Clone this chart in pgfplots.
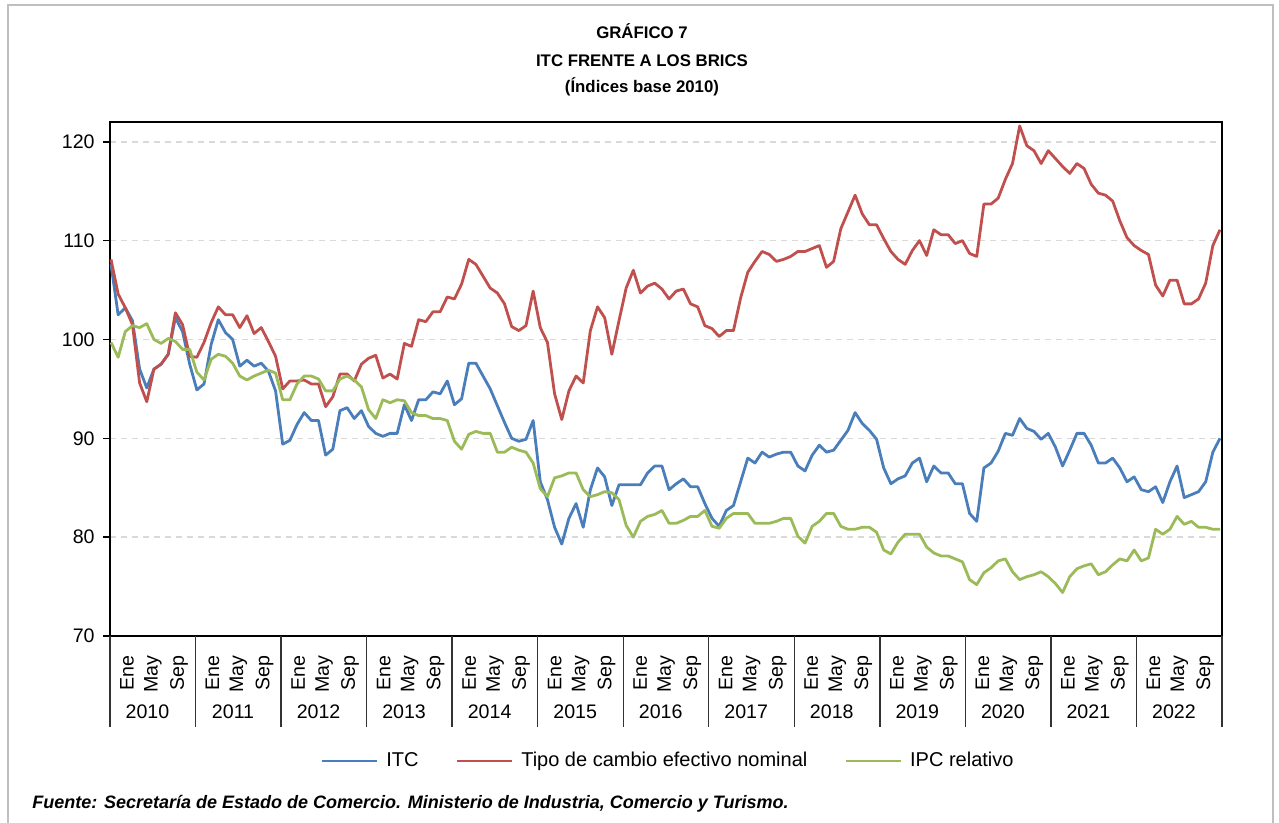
\documentclass[border=0pt]{standalone}
\usepackage{fontspec}
\setmainfont{Liberation Sans}
\usepackage{pgfplots}
\usepackage{pgfplotstable}
\pgfplotsset{compat=1.18}
\definecolor{cITC}{HTML}{4A7EBB}
\definecolor{cTCN}{HTML}{C0504D}
\definecolor{cIPC}{HTML}{9BBB59}
\pgfplotstableread{
i itc tcen ipc
0 107.6 108.1 99.7
1 102.5 104.6 98.2
2 103.2 103.2 100.8
3 101.9 101.5 101.4
4 97.0 95.6 101.2
5 95.1 93.7 101.6
6 97.0 97.0 100.0
7 97.5 97.5 99.6
8 98.5 98.5 100.1
9 102.2 102.7 99.8
10 100.8 101.5 99.0
11 97.5 98.3 99.0
12 94.9 98.2 96.7
13 95.5 99.7 95.9
14 99.5 101.7 98.0
15 102.0 103.3 98.5
16 100.7 102.5 98.3
17 100.0 102.5 97.6
18 97.3 101.2 96.3
19 97.9 102.4 95.9
20 97.3 100.6 96.3
21 97.6 101.2 96.6
22 96.8 99.8 96.9
23 94.8 98.3 96.6
24 89.4 95.0 93.9
25 89.8 95.8 93.9
26 91.4 95.8 95.5
27 92.6 95.9 96.3
28 91.8 95.5 96.3
29 91.8 95.5 96.0
30 88.3 93.2 94.8
31 88.9 94.2 94.8
32 92.8 96.5 96.0
33 93.1 96.5 96.3
34 92.0 95.8 95.9
35 92.8 97.5 95.2
36 91.2 98.1 92.9
37 90.5 98.4 92.0
38 90.2 96.1 93.9
39 90.5 96.5 93.6
40 90.5 96.0 93.9
41 93.4 99.6 93.8
42 91.8 99.3 92.6
43 93.9 102.0 92.3
44 93.9 101.8 92.3
45 94.7 102.8 92.0
46 94.5 102.8 92.0
47 95.8 104.3 91.8
48 93.4 104.1 89.7
49 94.0 105.6 88.9
50 97.6 108.1 90.4
51 97.6 107.6 90.7
52 96.3 106.4 90.5
53 95.0 105.2 90.5
54 93.3 104.7 88.6
55 91.6 103.6 88.6
56 90.0 101.3 89.1
57 89.7 100.9 88.8
58 89.9 101.4 88.6
59 91.8 104.9 87.5
60 85.6 101.2 84.9
61 83.8 99.7 84.1
62 81.0 94.5 86.0
63 79.3 91.9 86.2
64 81.9 94.8 86.5
65 83.4 96.3 86.5
66 81.0 95.6 84.8
67 84.8 100.9 84.1
68 87.0 103.3 84.3
69 86.1 102.2 84.6
70 83.2 98.5 84.5
71 85.3 101.9 83.8
72 85.3 105.2 81.2
73 85.3 107.0 80.0
74 85.3 104.7 81.6
75 86.5 105.4 82.1
76 87.2 105.7 82.3
77 87.2 105.1 82.7
78 84.8 104.1 81.4
79 85.4 104.9 81.4
80 85.9 105.1 81.7
81 85.1 103.6 82.1
82 85.1 103.3 82.1
83 83.4 101.4 82.7
84 81.9 101.1 81.1
85 81.1 100.3 80.9
86 82.7 100.9 81.9
87 83.2 100.9 82.4
88 85.6 104.2 82.4
89 88.0 106.8 82.4
90 87.5 107.9 81.4
91 88.6 108.9 81.4
92 88.1 108.6 81.4
93 88.4 107.9 81.6
94 88.6 108.1 81.9
95 88.6 108.4 81.9
96 87.2 108.9 80.1
97 86.7 108.9 79.4
98 88.3 109.2 81.1
99 89.3 109.5 81.6
100 88.6 107.3 82.4
101 88.8 107.9 82.4
102 89.8 111.2 81.1
103 90.8 112.9 80.8
104 92.6 114.6 80.8
105 91.5 112.7 81.0
106 90.8 111.6 81.0
107 89.9 111.6 80.5
108 87.0 110.2 78.7
109 85.4 108.9 78.3
110 85.9 108.1 79.5
111 86.2 107.6 80.3
112 87.5 109.0 80.3
113 88.0 110.0 80.3
114 85.6 108.5 79.0
115 87.2 111.1 78.4
116 86.5 110.6 78.1
117 86.5 110.6 78.1
118 85.4 109.7 77.8
119 85.4 110.0 77.5
120 82.4 108.7 75.7
121 81.6 108.4 75.2
122 87.0 113.7 76.4
123 87.5 113.7 76.9
124 88.7 114.3 77.6
125 90.5 116.2 77.8
126 90.3 117.8 76.5
127 92.0 121.6 75.7
128 91.0 119.6 76.0
129 90.7 119.1 76.2
130 89.9 117.8 76.5
131 90.5 119.1 76.0
132 89.1 118.3 75.3
133 87.2 117.5 74.4
134 88.8 116.8 76.0
135 90.5 117.8 76.8
136 90.5 117.3 77.1
137 89.3 115.7 77.3
138 87.5 114.8 76.2
139 87.5 114.6 76.5
140 88.0 114.0 77.2
141 87.0 112.0 77.8
142 85.6 110.3 77.6
143 86.1 109.5 78.7
144 84.8 109.0 77.6
145 84.6 108.6 77.9
146 85.1 105.5 80.8
147 83.5 104.4 80.3
148 85.6 106.0 80.8
149 87.2 106.0 82.1
150 84.0 103.6 81.3
151 84.3 103.6 81.6
152 84.6 104.1 81.0
153 85.6 105.7 81.0
154 88.6 109.5 80.8
155 90.0 111.1 80.8
}\datatable
\begin{document}
\begin{tikzpicture}
\useasboundingbox (0,0) rectangle (639.5pt,-411.5pt);
\draw[black!25, line width=1pt] (3.75pt,-412pt) -- (3.75pt,-2.5pt) -- (636.5pt,-2.5pt) -- (636.5pt,-412pt);
\node[anchor=base, font=\fontsize{8.4}{10}\selectfont\bfseries] at (321pt,-19.5pt) {GRÁFICO 7};
\node[anchor=base, font=\fontsize{8.4}{10}\selectfont\bfseries] at (321pt,-33.2pt) {ITC FRENTE A LOS BRICS};
\node[anchor=base, font=\fontsize{8.4}{10}\selectfont\bfseries] at (321pt,-46.5pt) {(Índices base 2010)};
\node[anchor=base west, font=\fontsize{9}{11}\selectfont\bfseries\itshape, inner sep=0pt] at (16pt,-404pt) {Fuente: Secretaría de Estado de Comercio. Ministerio de Industria, Comercio y Turismo.};
\begin{axis}[
  at={(55pt,-318pt)}, anchor=south west,
  scale only axis, width=556pt, height=257pt,
  xmin=-0.14, xmax=155.28, ymin=70, ymax=122,
  clip=false,
  axis line style={line width=0.8pt, black},
  ytick={70,80,90,100,110,120},
  ytick pos=left,
  tick align=outside,
  major tick length=3.5pt,
  tick style={line width=0.8pt, black},
  ymajorgrids,
  grid style={line width=0.75pt, dash pattern=on 3pt off 2.5pt, black!15},
  /pgf/number format/assume math mode=true,
  yticklabel style={font=\fontsize{9.8}{11}\selectfont, inner sep=0pt, anchor=east},
  yticklabel shift=4pt,
  xtick={2.24,5.87,9.5,14.195,17.825,21.455,26.15,29.78,33.41,38.105,41.735,45.365,50.06,53.69,57.32,62.015,65.645,69.275,73.97,77.6,81.23,85.925,89.555,93.185,97.88,101.51,105.14,109.835,113.465,117.095,121.79,125.42,129.05,133.745,137.375,141.005,145.7,149.33,152.96},
  xticklabels={Ene,May,Sep,Ene,May,Sep,Ene,May,Sep,Ene,May,Sep,Ene,May,Sep,Ene,May,Sep,Ene,May,Sep,Ene,May,Sep,Ene,May,Sep,Ene,May,Sep,Ene,May,Sep,Ene,May,Sep,Ene,May,Sep},
  xtick style={draw=none},
  xticklabel style={font=\fontsize{9.8}{11}\selectfont, rotate=90, anchor=east, inner sep=0pt},
  xticklabel shift=6pt,
  legend columns=3,
  legend style={at={(0.5027,-0.2432)}, anchor=center, draw=none, fill=none,
    font=\fontsize{10}{12}\selectfont,
    /tikz/every odd column/.append style={column sep=2pt},
    /tikz/every even column/.append style={column sep=16.5pt}},
  legend image code/.code={\draw[#1] (0pt,0pt) -- (27.5pt,0pt);},
  every axis plot/.append style={line width=1.4pt, line join=round},
]
\addplot[cITC] table[x=i, y=itc] {\datatable};
\addlegendentry{ITC}
\addplot[cTCN] table[x=i, y=tcen] {\datatable};
\addlegendentry{Tipo de cambio efectivo nominal}
\addplot[cIPC] table[x=i, y=ipc] {\datatable};
\addlegendentry{IPC relativo}
\foreach \s in {-0.14,11.815,23.77,35.725,47.68,59.635,71.59,83.545,95.5,107.455,119.41,131.365,143.32,155.275}{
  \edef\temp{\noexpand\draw[line width=0.7pt, black!80] (axis cs:\s,70) -- ++(0pt,-45.5pt);}
  \temp
}
\foreach \x/\y in {5.1/2010,17.055/2011,29.01/2012,40.965/2013,52.92/2014,64.875/2015,76.83/2016,88.785/2017,100.74/2018,112.695/2019,124.65/2020,136.605/2021,148.56/2022}{
  \edef\temp{\noexpand\node[font=\noexpand\fontsize{9.8}{11}\noexpand\selectfont, yshift=-38pt] at (axis cs:\x,70) {\y};}
  \temp
}
\end{axis}
\end{tikzpicture}
\end{document}
